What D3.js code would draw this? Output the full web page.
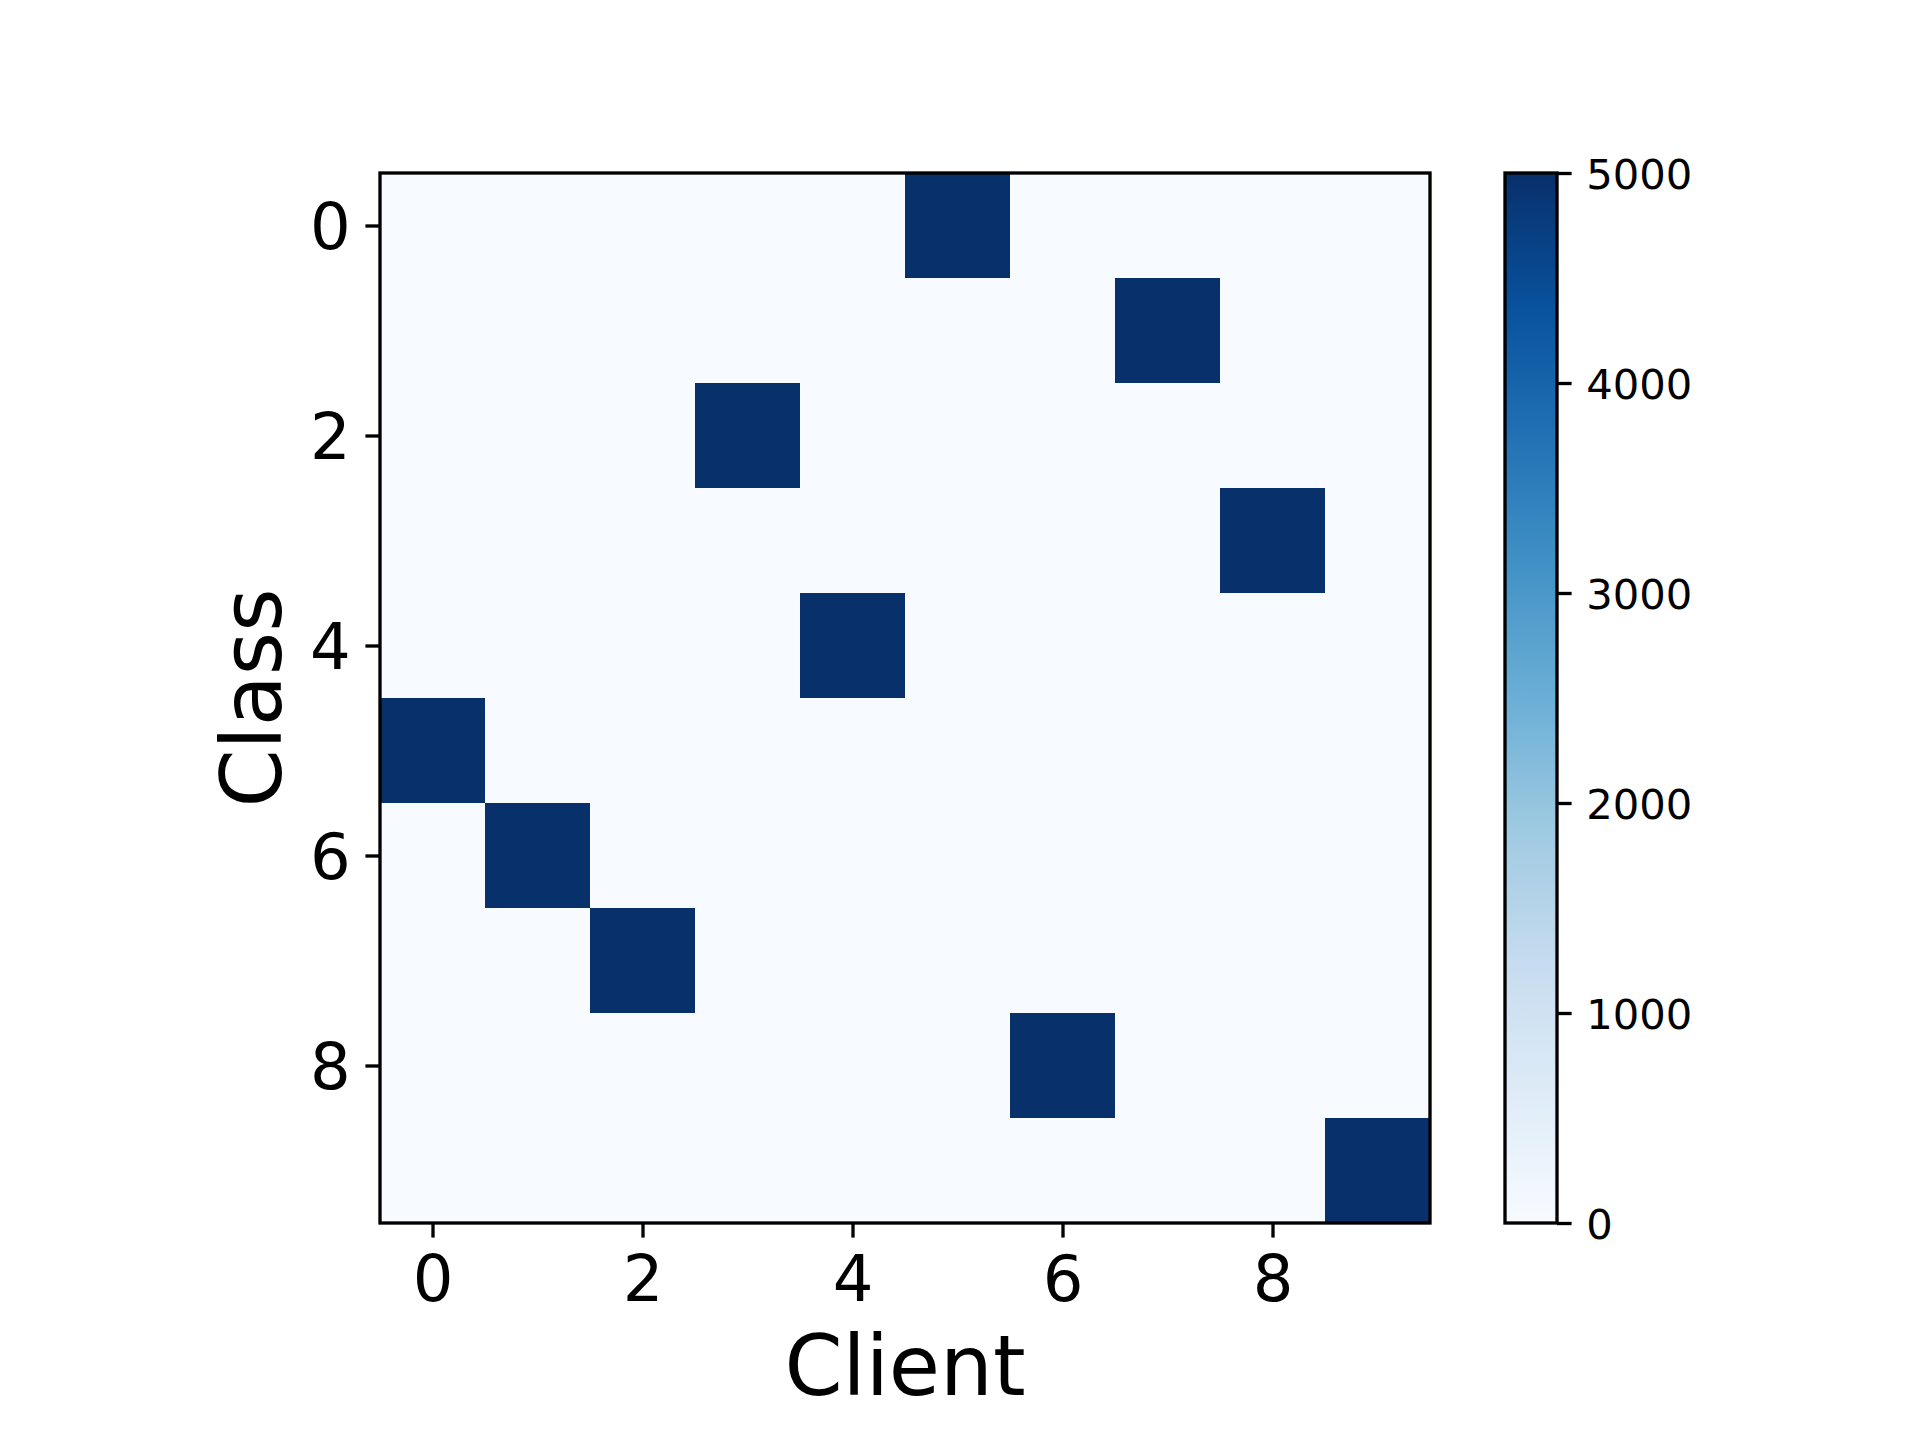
<!DOCTYPE html>
<html>
<head>
<meta charset="utf-8">
<script src="https://cdn.jsdelivr.net/npm/d3@7"></script>
<style>
  html, body { margin: 0; padding: 0; background: #ffffff; }
  svg { display: block; }
  text { font-family: "DejaVu Sans", sans-serif; fill: #000; }
</style>
</head>
<body>
<script>
// ---- Data ----
const clients = [0, 1, 2, 3, 4, 5, 6, 7, 8, 9];
const classes = [0, 1, 2, 3, 4, 5, 6, 7, 8, 9];
// counts[class][client]
const counts = [
  [0, 0, 0, 0, 0, 5000, 0, 0, 0, 0],
  [0, 0, 0, 0, 0, 0, 0, 5000, 0, 0],
  [0, 0, 0, 5000, 0, 0, 0, 0, 0, 0],
  [0, 0, 0, 0, 0, 0, 0, 0, 5000, 0],
  [0, 0, 0, 0, 5000, 0, 0, 0, 0, 0],
  [5000, 0, 0, 0, 0, 0, 0, 0, 0, 0],
  [0, 5000, 0, 0, 0, 0, 0, 0, 0, 0],
  [0, 0, 5000, 0, 0, 0, 0, 0, 0, 0],
  [0, 0, 0, 0, 0, 0, 5000, 0, 0, 0],
  [0, 0, 0, 0, 0, 0, 0, 0, 0, 5000]
];
const axisTicks = [0, 2, 4, 6, 8];
const colorbarTicks = [0, 1000, 2000, 3000, 4000, 5000];
const xLabel = "Client";
const yLabel = "Class";
const bluesStops = ["#f7fbff", "#deebf7", "#c6dbef", "#9ecae1", "#6baed6", "#4292c6", "#2171b5", "#08519c", "#08306b"];

// ---- Layout ----
const W = 1920, H = 1440;
const plot = { left: 380, top: 173, size: 1050 };
const cbar = { left: 1505, width: 52 };
const lw = 3.33, tickLen = 14.6, pad = 14.6;
const tickFont = 64, cbFont = 41.7, labelFont = 83.3;

const svg = d3.select("body").append("svg").attr("width", W).attr("height", H);

const x = d3.scaleLinear().domain([-0.5, 9.5]).range([plot.left, plot.left + plot.size]);
const y = d3.scaleLinear().domain([-0.5, 9.5]).range([plot.top, plot.top + plot.size]);
const vmax = d3.max(counts.flat());
const interp = d3.piecewise(d3.interpolateRgb, bluesStops);
const color = d3.scaleSequential(interp).domain([0, 5000]);

// Cells
const cells = [];
classes.forEach((c, i) => clients.forEach((k, j) => cells.push({ cls: c, client: k, v: counts[i][j] })));
svg.append("g").selectAll("rect").data(cells).join("rect")
  .attr("x", d => x(d.client - 0.5))
  .attr("y", d => y(d.cls - 0.5))
  .attr("width", d => x(d.client + 0.5) - x(d.client - 0.5) + 0.5)
  .attr("height", d => y(d.cls + 0.5) - y(d.cls - 0.5) + 0.5)
  .attr("fill", d => color(d.v))
  .attr("shape-rendering", "crispEdges");

// Frame
svg.append("rect")
  .attr("x", plot.left).attr("y", plot.top)
  .attr("width", plot.size).attr("height", plot.size)
  .attr("fill", "none").attr("stroke", "#000").attr("stroke-width", lw);

// X axis
const xAxis = d3.axisBottom(x).tickValues(axisTicks).tickSize(tickLen).tickPadding(pad);
const gx = svg.append("g").attr("transform", `translate(0,${plot.top + plot.size})`).call(xAxis);
gx.select(".domain").remove();
gx.selectAll(".tick line").attr("stroke", "#000").attr("stroke-width", lw);
gx.selectAll(".tick text").attr("font-size", tickFont).attr("font-family", "DejaVu Sans").attr("fill", "#000")
  .attr("dy", "0.76em");

// Y axis
const yAxis = d3.axisLeft(y).tickValues(axisTicks).tickSize(tickLen).tickPadding(pad);
const gy = svg.append("g").attr("transform", `translate(${plot.left},0)`).call(yAxis);
gy.select(".domain").remove();
gy.selectAll(".tick line").attr("stroke", "#000").attr("stroke-width", lw);
gy.selectAll(".tick text").attr("font-size", tickFont).attr("font-family", "DejaVu Sans").attr("fill", "#000")
  .attr("dy", "0.36em");

// Axis labels
svg.append("text").attr("x", plot.left + plot.size / 2).attr("y", 1395)
  .attr("text-anchor", "middle").attr("font-size", labelFont).text(xLabel);
svg.append("text").attr("transform", `translate(281,${plot.top + plot.size / 2}) rotate(-90)`)
  .attr("text-anchor", "middle").attr("font-size", labelFont).text(yLabel);

// Colorbar
const cy = d3.scaleLinear().domain([0, 5000]).range([plot.top + plot.size, plot.top]);
const defs = svg.append("defs");
const grad = defs.append("linearGradient").attr("id", "cbgrad")
  .attr("x1", 0).attr("y1", 1).attr("x2", 0).attr("y2", 0);
d3.range(0, 1.0001, 0.02).forEach(t => {
  grad.append("stop").attr("offset", t).attr("stop-color", color(t * 5000));
});
svg.append("rect").attr("x", cbar.left).attr("y", plot.top)
  .attr("width", cbar.width).attr("height", plot.size)
  .attr("fill", "url(#cbgrad)");
svg.append("rect").attr("x", cbar.left).attr("y", plot.top)
  .attr("width", cbar.width).attr("height", plot.size)
  .attr("fill", "none").attr("stroke", "#000").attr("stroke-width", lw);

const cAxis = d3.axisRight(cy).tickValues(colorbarTicks).tickSize(tickLen).tickPadding(pad).tickFormat(d3.format("d"));
const gc = svg.append("g").attr("transform", `translate(${cbar.left + cbar.width},0)`).call(cAxis);
gc.select(".domain").remove();
gc.selectAll(".tick line").attr("stroke", "#000").attr("stroke-width", lw);
gc.selectAll(".tick text").attr("font-size", cbFont).attr("font-family", "DejaVu Sans").attr("fill", "#000")
  .attr("dy", "0.36em");
</script>
</body>
</html>
